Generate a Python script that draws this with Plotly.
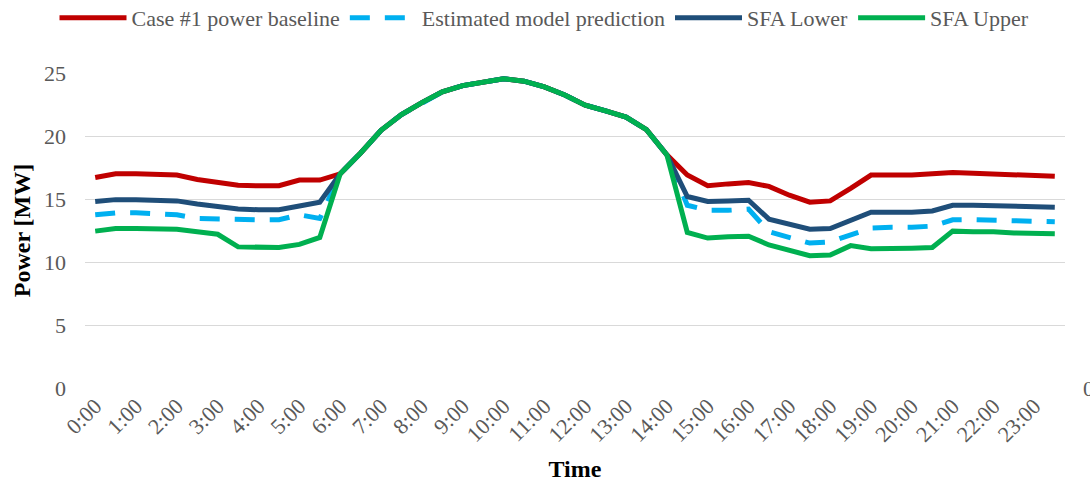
import plotly.graph_objects as go

# Half-hourly time slots over one day
times = [f"{h}:{m:02d}" for h in range(24) for m in (0, 30)]
hour_labels = [f"{h}:00" for h in range(24)]

baseline = [16.7, 17.0, 17.0, 16.95, 16.9, 16.55, 16.3, 16.1, 16.05, 16.05, 16.5, 16.5,
            17.0, 18.65, 20.45, 21.7, 22.65, 23.5, 24.0, 24.3, 24.55, 24.35, 23.9, 23.25,
            22.45, 22.0, 21.5, 20.5, 18.5, 16.9, 16.05, 16.2, 16.3, 16.0, 15.3, 14.75,
            14.85, 15.85, 16.9, 16.9, 16.9, 17.0, 17.1, 17.05, 17.0, 16.9, 16.85, 16.8]

estimated = [13.75, 13.9, 13.9, 13.85, 13.75, 13.45, 13.4, 13.35, 13.35, 13.35, 13.75, 13.45,
             17.0, 18.65, 20.45, 21.7, 22.65, 23.5, 24.0, 24.3, 24.55, 24.35, 23.9, 23.25,
             22.45, 22.0, 21.5, 20.5, 18.5, 14.5, 14.1, 14.1, 14.2, 12.4, 11.9, 11.5,
             11.6, 12.15, 12.7, 12.75, 12.75, 12.85, 13.35, 13.35, 13.3, 13.25, 13.2, 13.2]

sfa_lower = [14.8, 14.95, 14.95, 14.9, 14.85, 14.6, 14.4, 14.2, 14.15, 14.15, 14.45, 14.75,
             17.0, 18.65, 20.45, 21.7, 22.65, 23.5, 24.0, 24.3, 24.55, 24.35, 23.9, 23.25,
             22.45, 22.0, 21.5, 20.5, 18.5, 15.2, 14.8, 14.85, 14.9, 13.4, 12.95, 12.6,
             12.65, 13.3, 13.95, 13.95, 13.95, 14.05, 14.5, 14.5, 14.45, 14.4, 14.35, 14.35]

sfa_upper = [12.45, 12.65, 12.65, 12.6, 12.6, 12.4, 12.2, 11.2, 11.15, 11.15, 11.4, 11.95,
             17.0, 18.65, 20.45, 21.7, 22.65, 23.5, 24.0, 24.3, 24.55, 24.35, 23.9, 23.25,
             22.45, 22.0, 21.5, 20.5, 18.5, 12.35, 11.9, 12.0, 12.05, 11.35, 10.9, 10.5,
             10.55, 11.3, 11.05, 11.05, 11.1, 11.15, 12.45, 12.4, 12.4, 12.3, 12.25, 12.25]

series = [
    ("Case #1 power baseline", baseline, "#C00000", "solid"),
    ("Estimated model prediction", estimated, "#00B0F0", "20px,15px"),
    ("SFA Lower", sfa_lower, "#1F4E79", "solid"),
    ("SFA Upper", sfa_upper, "#00B050", "solid"),
]

SERIF = "Times New Roman, Liberation Serif, serif"
GREY = "#595959"

fig = go.Figure()
for name, values, color, dash in series:
    fig.add_trace(go.Scatter(
        x=times, y=values, name=name, mode="lines",
        line=dict(color=color, width=5, dash=dash),
    ))

fig.update_layout(
    width=1090, height=483,
    margin=dict(l=85, r=25, t=73, b=95),
    paper_bgcolor="white", plot_bgcolor="white",
    font=dict(family=SERIF, size=22, color=GREY),
    showlegend=True,
    legend=dict(
        orientation="h", xref="container", yref="container",
        x=0.05, xanchor="left", y=0.963, yanchor="middle",
        font=dict(family=SERIF, size=22, color=GREY),
        itemwidth=67, bgcolor="rgba(0,0,0,0)",
    ),
    xaxis=dict(
        type="category", range=[-0.5, 47.5],
        tickmode="array", tickvals=times[::2], ticktext=hour_labels,
        tickangle=-45, showgrid=False, showline=False, ticks="",
        tickfont=dict(family=SERIF, size=22, color=GREY),
        title=dict(text="<b>Time</b>", font=dict(family=SERIF, size=24, color="black"), standoff=14),
        automargin=False,
    ),
    yaxis=dict(
        range=[0, 25], tickvals=[0, 5, 10, 15, 20, 25],
        showgrid=True, gridcolor="#D9D9D9", gridwidth=1,
        zeroline=False, showline=False, ticks="", ticklabelstandoff=18,
        tickfont=dict(family=SERIF, size=22, color=GREY),
        title=dict(text="<b>Power [MW]</b>", font=dict(family=SERIF, size=24, color="black"), standoff=6),
        automargin=False,
    ),
)

# Secondary-axis zero label at the right edge
fig.add_annotation(
    xref="paper", yref="y", x=1, y=0, xanchor="left", yanchor="middle",
    xshift=16, text="0", showarrow=False,
    font=dict(family=SERIF, size=22, color=GREY),
)

fig.write_html("out.html")
